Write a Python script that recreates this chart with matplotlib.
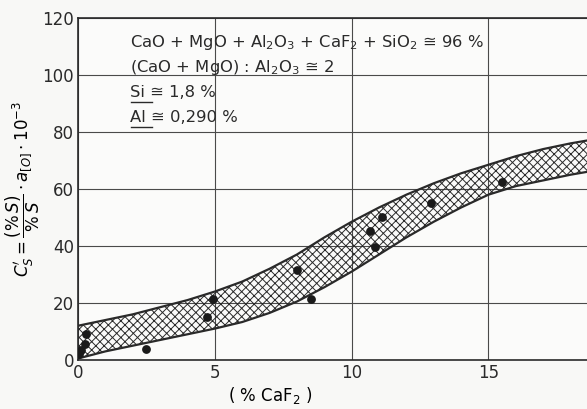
import matplotlib
matplotlib.use("Agg")
import matplotlib.pyplot as plt
from matplotlib.patches import Rectangle

INK = "#2a2a2a"
GRID = "#4a4a4a"

# band limits
band_x = [0, 1, 2, 3, 4, 5, 6, 7, 8, 9, 10, 11, 12, 13, 14, 15, 16, 17, 18, 18.6]
band_hi = [12, 14, 16, 18.5, 21, 24, 27.5, 32, 37, 43, 48.5, 53.5, 58, 62, 65.5, 68.5, 71.5, 74, 76, 77]
band_lo = [0.5, 3, 5, 7, 9, 11, 13.3, 16.5, 20.5, 25.5, 31, 37, 43, 48.5, 53.5, 58, 61, 63, 65, 66]

# measured points
caf2 = [0.05, 0.1, 0.25, 0.3, 2.5, 4.7, 4.93, 8.0, 8.5, 10.66, 10.85, 11.1, 12.9, 15.5]
cs = [2.2, 3.5, 5.5, 9.2, 3.9, 15.2, 21.4, 31.6, 21.4, 45.4, 39.6, 50.3, 55.0, 62.6]

xticks = [0, 5, 10, 15]
yticks = [0, 20, 40, 60, 80, 100, 120]

plt.rcParams.update({"font.family": "DejaVu Sans", "text.color": INK,
                     "xtick.color": INK, "ytick.color": INK})

fig = plt.figure(figsize=(5.87, 4.09), dpi=100, facecolor="#f8f8f6")
ax = fig.add_axes([0.133, 0.12, 0.867, 0.836])
ax.set_facecolor("#fbfbfa")

ax.set_xlim(0, 18.6)
ax.set_ylim(0, 120)
ax.set_xticks(xticks)
ax.set_yticks(yticks)
ax.tick_params(length=0, labelsize=12, pad=3)
ax.grid(True, color=GRID, lw=0.8, zorder=0)
ax.spines["right"].set_visible(False)
for s in ("left", "bottom", "top"):
    ax.spines[s].set_color(INK)
    ax.spines[s].set_linewidth(1.2)

# hatched scatter band
plt.rcParams["hatch.linewidth"] = 0.7
ax.fill_between(band_x, band_lo, band_hi, facecolor="none", edgecolor=INK,
                hatch="xxxx", lw=0, zorder=2)
ax.plot(band_x, band_hi, color=INK, lw=1.6, zorder=3)
ax.plot(band_x, band_lo, color=INK, lw=1.6, zorder=3)
ax.scatter(caf2, cs, s=28, color="#1a1a1a", zorder=4)

# white panel holding the slag conditions
ax.add_patch(Rectangle((1.7, 81), 13.3, 38.5, facecolor="#fbfbfa", edgecolor="none", zorder=1))
tx = 1.9
fs = 11.8
ax.text(tx, 111.5, r"CaO + MgO + Al$_2$O$_3$ + CaF$_2$ + SiO$_2$ ≅ 96 %",
        fontsize=fs, va="center", zorder=5)
ax.text(tx, 102.8, r"(CaO + MgO) : Al$_2$O$_3$ ≅ 2", fontsize=fs, va="center", zorder=5)
ax.text(tx, 93.8, "Si ≅ 1,8 %", fontsize=fs, va="center", zorder=5)
ax.text(tx, 85.0, "Al ≅ 0,290 %", fontsize=fs, va="center", zorder=5)
ax.plot([1.95, 2.7], [90.6, 90.6], color=INK, lw=1.0, zorder=5)
ax.plot([1.95, 2.7], [81.8, 81.8], color=INK, lw=1.0, zorder=5)

ax.set_xlabel(r"( % CaF$_2$ )", fontsize=12, x=0.377, labelpad=2)
ax.set_ylabel(r"$C_S' = \dfrac{(\%\,S)}{\%\,S}\cdot a_{[O]}\cdot 10^{-3}$", fontsize=12, labelpad=0)

fig.savefig("out.png", dpi=100, facecolor=fig.get_facecolor())
